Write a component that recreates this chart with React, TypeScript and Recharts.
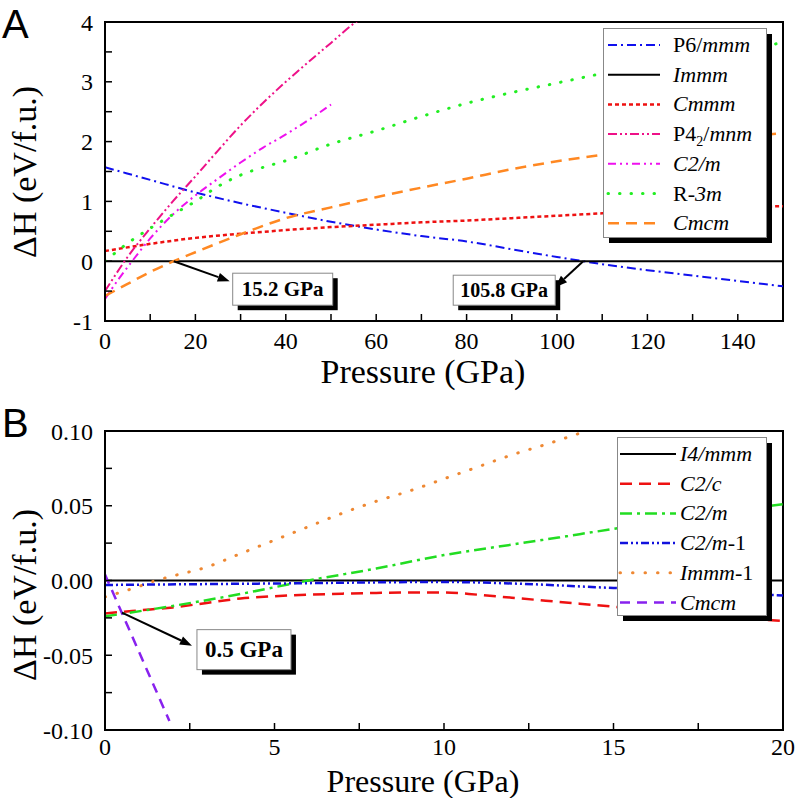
import React from "react";
import { LineChart, Line, XAxis, YAxis, ReferenceArea, ReferenceDot } from "recharts";

type Pt = { x: number; y: number };
type Seg = [string, boolean, boolean?];

const SERIF = "'Liberation Serif', 'Times New Roman', serif";

// ---- panel A ----
const pressureTicksA = [0, 10, 20, 30, 40, 50, 60, 70, 80, 90, 100, 110, 120, 130, 140, 150];
const enthalpyTicksA = [-1, -0.5, 0, 0.5, 1, 1.5, 2, 2.5, 3, 3.5, 4];

const p6mmm: Pt[] = [
  { x: 0, y: 1.57 }, { x: 10, y: 1.36 }, { x: 20, y: 1.15 }, { x: 30, y: 0.97 },
  { x: 40, y: 0.81 }, { x: 50, y: 0.66 }, { x: 60, y: 0.53 }, { x: 70, y: 0.42 },
  { x: 80, y: 0.33 }, { x: 90, y: 0.2 }, { x: 100, y: 0.07 }, { x: 105.8, y: 0 },
  { x: 110, y: -0.05 }, { x: 120, y: -0.15 }, { x: 130, y: -0.24 }, { x: 140, y: -0.33 },
  { x: 150, y: -0.42 },
];
const immm: Pt[] = [{ x: 0, y: 0 }, { x: 150, y: 0 }];
const cmmm: Pt[] = [
  { x: 0, y: 0.17 }, { x: 10, y: 0.29 }, { x: 20, y: 0.39 }, { x: 30, y: 0.46 },
  { x: 40, y: 0.52 }, { x: 50, y: 0.57 }, { x: 60, y: 0.61 }, { x: 70, y: 0.65 },
  { x: 80, y: 0.68 }, { x: 90, y: 0.72 }, { x: 100, y: 0.76 }, { x: 110, y: 0.8 },
  { x: 120, y: 0.84 }, { x: 130, y: 0.87 }, { x: 140, y: 0.9 }, { x: 150, y: 0.92 },
];
const p42mnm: Pt[] = [
  { x: 0, y: -0.5 }, { x: 5, y: 0.07 }, { x: 10, y: 0.55 }, { x: 15, y: 1.0 },
  { x: 20, y: 1.42 }, { x: 25, y: 1.85 }, { x: 30, y: 2.27 }, { x: 35, y: 2.65 },
  { x: 40, y: 3.0 }, { x: 45, y: 3.33 }, { x: 50, y: 3.65 }, { x: 55, y: 3.97 },
  { x: 58, y: 4.12 },
];
const c2mA: Pt[] = [
  { x: 0, y: -0.63 }, { x: 3, y: -0.3 }, { x: 6, y: 0 }, { x: 10, y: 0.38 },
  { x: 15, y: 0.78 }, { x: 20, y: 1.1 }, { x: 25, y: 1.38 }, { x: 30, y: 1.65 },
  { x: 35, y: 1.9 }, { x: 40, y: 2.12 }, { x: 45, y: 2.36 }, { x: 50, y: 2.62 },
];
const r3m: Pt[] = [
  { x: 0, y: 0 }, { x: 5, y: 0.3 }, { x: 10, y: 0.55 }, { x: 15, y: 0.78 },
  { x: 20, y: 1.0 }, { x: 25, y: 1.25 }, { x: 30, y: 1.44 }, { x: 35, y: 1.57 },
  { x: 40, y: 1.68 }, { x: 50, y: 1.96 }, { x: 60, y: 2.18 }, { x: 70, y: 2.42 },
  { x: 80, y: 2.64 }, { x: 90, y: 2.82 }, { x: 100, y: 2.98 }, { x: 110, y: 3.14 },
  { x: 120, y: 3.3 }, { x: 130, y: 3.44 }, { x: 140, y: 3.55 }, { x: 150, y: 3.65 },
];
const cmcmA: Pt[] = [
  { x: 0, y: -0.58 }, { x: 5, y: -0.38 }, { x: 10, y: -0.18 }, { x: 15.2, y: 0 },
  { x: 20, y: 0.15 }, { x: 30, y: 0.45 }, { x: 40, y: 0.72 }, { x: 50, y: 0.9 },
  { x: 60, y: 1.07 }, { x: 70, y: 1.23 }, { x: 80, y: 1.38 }, { x: 90, y: 1.54 },
  { x: 100, y: 1.67 }, { x: 110, y: 1.78 }, { x: 120, y: 1.88 }, { x: 130, y: 1.98 },
  { x: 140, y: 2.07 }, { x: 150, y: 2.14 },
];

// ---- panel B ----
const pressureTicksB = [0, 2.5, 5, 7.5, 10, 12.5, 15, 17.5, 20];
const enthalpyTicksB = [-0.1, -0.075, -0.05, -0.025, 0, 0.025, 0.05, 0.075, 0.1];

const i4mmm: Pt[] = [{ x: 0, y: 0 }, { x: 20, y: 0 }];
const c2c: Pt[] = [
  { x: 0, y: -0.022 }, { x: 1, y: -0.02 }, { x: 2, y: -0.018 }, { x: 3, y: -0.015 },
  { x: 4, y: -0.012 }, { x: 5, y: -0.0105 }, { x: 6, y: -0.0095 }, { x: 7, y: -0.0088 },
  { x: 8, y: -0.0083 }, { x: 9, y: -0.008 }, { x: 10, y: -0.008 }, { x: 11, y: -0.0095 },
  { x: 12, y: -0.0115 }, { x: 13, y: -0.0135 }, { x: 14, y: -0.0155 }, { x: 15, y: -0.0175 },
  { x: 16, y: -0.0195 }, { x: 17, y: -0.0215 }, { x: 18, y: -0.0235 }, { x: 19, y: -0.0255 },
  { x: 20, y: -0.027 },
];
const c2mB: Pt[] = [
  { x: 0, y: -0.024 }, { x: 2, y: -0.017 }, { x: 4, y: -0.009 }, { x: 6, y: 0 },
  { x: 8, y: 0.008 }, { x: 10, y: 0.017 }, { x: 12, y: 0.024 }, { x: 14, y: 0.031 },
  { x: 16, y: 0.038 }, { x: 18, y: 0.045 }, { x: 20, y: 0.051 },
];
const c2m1: Pt[] = [
  { x: 0, y: -0.003 }, { x: 5, y: -0.002 }, { x: 10, y: -0.001 }, { x: 12, y: -0.002 },
  { x: 15, y: -0.005 }, { x: 18, y: -0.008 }, { x: 20, y: -0.01 },
];
const immm1: Pt[] = [
  { x: 0, y: -0.011 }, { x: 1, y: -0.004 }, { x: 1.5, y: 0 }, { x: 2, y: 0.003 },
  { x: 3, y: 0.009 }, { x: 4, y: 0.018 }, { x: 5, y: 0.027 }, { x: 6, y: 0.036 },
  { x: 7, y: 0.045 }, { x: 8, y: 0.053 }, { x: 9, y: 0.06 }, { x: 10, y: 0.068 },
  { x: 11, y: 0.076 }, { x: 12, y: 0.084 }, { x: 13, y: 0.091 }, { x: 14.2, y: 0.1 },
];
const cmcmB: Pt[] = [{ x: 0, y: 0.004 }, { x: 1.9, y: -0.094 }];

type Series = {
  name: Seg[];
  data: Pt[];
  color: string;
  dash?: string;
  width: number;
  cap?: "round" | "butt";
};

const seriesA: Series[] = [
  { name: [["P6/", false], ["mmm", true]], data: p6mmm, color: "#1010ee", dash: "9 4 2 4", width: 2 },
  { name: [["Immm", true]], data: immm, color: "#000", width: 2 },
  { name: [["Cmmm", true]], data: cmmm, color: "#ee1111", dash: "4 3", width: 2.5 },
  { name: [["P4", false], ["2", false, true], ["/", false], ["mnm", true]], data: p42mnm, color: "#ee1188", dash: "9 3 2 3 2 3", width: 2 },
  { name: [["C2/m", true]], data: c2mA, color: "#ee11ee", dash: "8 4 2 4 2 4", width: 2 },
  { name: [["R-", false], ["3m", true]], data: r3m, color: "#22ee22", dash: "0.5 11", width: 3, cap: "round" },
  { name: [["Cmcm", true]], data: cmcmA, color: "#ff8822", dash: "11 7", width: 2.5 },
];

const seriesB: Series[] = [
  { name: [["I4/mmm", true]], data: i4mmm, color: "#000", width: 2 },
  { name: [["C2/c", true]], data: c2c, color: "#ee1111", dash: "12 7", width: 2.5 },
  { name: [["C2/m", true]], data: c2mB, color: "#22dd22", dash: "12 5 3 5", width: 2.5 },
  { name: [["C2/m", true], ["-1", false]], data: c2m1, color: "#1111dd", dash: "8 3 2 3 2 3", width: 2.5 },
  { name: [["Immm", true], ["-1", false]], data: immm1, color: "#ee8833", dash: "0.5 12", width: 3, cap: "round" },
  { name: [["Cmcm", true]], data: cmcmB, color: "#8822ee", dash: "10 7", width: 2.5 },
];

const tickStyle = { fill: "#000", fontSize: 24, fontFamily: SERIF };

function Callout(props: any) {
  const { cx, cy, bx, by, bw, bh, tx, ty, text, fs } = props;
  const ang = Math.atan2(ty, tx);
  const hl = 12;
  const hw = 4.5;
  const ex = cx + tx - hl * Math.cos(ang);
  const ey = cy + ty - hl * Math.sin(ang);
  const px = -Math.sin(ang) * hw;
  const py = Math.cos(ang) * hw;
  return (
    <g>
      <line x1={cx} y1={cy} x2={ex} y2={ey} stroke="#000" strokeWidth={2} />
      <polygon
        points={`${cx + tx},${cy + ty} ${ex + px},${ey + py} ${ex - px},${ey - py}`}
        fill="#000"
      />
      <rect x={cx + bx + 5} y={cy + by + 5} width={bw} height={bh} fill="#000" />
      <rect x={cx + bx} y={cy + by} width={bw} height={bh} fill="#fff" stroke="#888" strokeWidth={1} />
      <text
        x={cx + bx + bw / 2}
        y={cy + by + bh / 2 + fs * 0.34}
        textAnchor="middle"
        fontFamily={SERIF}
        fontWeight="bold"
        fontSize={fs}
        fill="#000"
      >
        {text}
      </text>
    </g>
  );
}

function LegendBox({ items, left, top, width, height, x1, x2, textX }: any) {
  return (
    <svg
      style={{ position: "absolute", left, top, overflow: "visible" }}
      width={width + 8}
      height={height + 8}
    >
      <rect x={6} y={6} width={width} height={height} fill="#000" />
      <rect x={0.5} y={0.5} width={width} height={height} fill="#fff" stroke="#888" />
      {items.map((s: Series, i: number) => {
        const cy = 17 + i * 29.7;
        return (
          <g key={i}>
            <line
              x1={x1}
              x2={x2}
              y1={cy}
              y2={cy}
              stroke={s.color}
              strokeWidth={s.width}
              strokeDasharray={s.dash}
              strokeLinecap={s.cap || "butt"}
            />
            <text x={textX} y={cy + 7} fontFamily={SERIF} fontSize={22} fill="#000">
              {s.name.map((seg, j) =>
                seg[2] ? (
                  <tspan key={j} fontSize={14} dy={5}>
                    {seg[0]}
                  </tspan>
                ) : (
                  <tspan
                    key={j}
                    fontStyle={seg[1] ? "italic" : "normal"}
                    dy={j > 0 && s.name[j - 1][2] ? -5 : 0}
                  >
                    {seg[0]}
                  </tspan>
                )
              )}
            </text>
          </g>
        );
      })}
    </svg>
  );
}

function renderLines(list: Series[]) {
  return list.map((s, i) => (
    <Line
      key={i}
      data={s.data}
      dataKey="y"
      type={s.data.length > 2 ? "monotone" : "linear"}
      stroke={s.color}
      strokeWidth={s.width}
      strokeDasharray={s.dash}
      strokeLinecap={s.cap || "butt"}
      dot={false}
      activeDot={false}
      isAnimationActive={false}
    />
  ));
}

export default function App() {
  return (
    <div
      style={{
        position: "absolute",
        left: 0,
        top: 0,
        width: 798,
        height: 798,
        background: "#fff",
        fontFamily: SERIF,
      }}
    >
      <div style={{ position: "absolute", left: 0, top: 0 }}>
        <LineChart width={798} height={400} margin={{ top: 22, right: 15, bottom: 0, left: 0 }}>
          <XAxis
            type="number"
            dataKey="x"
            domain={[0, 150]}
            allowDataOverflow
            ticks={pressureTicksA}
            interval={0}
            height={79}
            tickSize={-7}
            tickMargin={18}
            tick={tickStyle}
            tickFormatter={(v: number) => (v % 20 === 0 ? String(v) : "")}
            axisLine={{ stroke: "#000", strokeWidth: 2 }}
            tickLine={{ stroke: "#000", strokeWidth: 1.5 }}
          />
          <YAxis
            type="number"
            domain={[-1, 4]}
            allowDataOverflow
            ticks={enthalpyTicksA}
            interval={0}
            width={105}
            tickSize={-7}
            tickMargin={19}
            tick={tickStyle}
            tickFormatter={(v: number) => (Number.isInteger(v) ? String(v) : "")}
            axisLine={{ stroke: "#000", strokeWidth: 2 }}
            tickLine={{ stroke: "#000", strokeWidth: 1.5 }}
          />
          <ReferenceArea x1={0} x2={150} y1={-1} y2={4} fill="none" stroke="#000" strokeWidth={2} ifOverflow="visible" />
          {renderLines(seriesA)}
          <ReferenceDot
            x={15.2}
            y={0}
            r={0}
            ifOverflow="visible"
            shape={(p: any) => (
              <Callout cx={p.cx} cy={p.cy} bx={59} by={12} bw={100} bh={32} tx={56} ty={20} text="15.2 GPa" fs={21} />
            )}
          />
          <ReferenceDot
            x={105.8}
            y={0}
            r={0}
            ifOverflow="visible"
            shape={(p: any) => (
              <Callout cx={p.cx} cy={p.cy} bx={-130} by={14} bw={102} bh={30} tx={-28} ty={26} text="105.8 GPa" fs={20} />
            )}
          />
        </LineChart>
      </div>

      <div style={{ position: "absolute", left: 0, top: 400 }}>
        <LineChart width={798} height={398} margin={{ top: 31, right: 15, bottom: 0, left: 0 }}>
          <XAxis
            type="number"
            dataKey="x"
            domain={[0, 20]}
            allowDataOverflow
            ticks={pressureTicksB}
            interval={0}
            height={68}
            tickSize={-7}
            tickMargin={15}
            tick={tickStyle}
            tickFormatter={(v: number) => (v % 5 === 0 ? String(v) : "")}
            axisLine={{ stroke: "#000", strokeWidth: 2 }}
            tickLine={{ stroke: "#000", strokeWidth: 1.5 }}
          />
          <YAxis
            type="number"
            domain={[-0.1, 0.1]}
            allowDataOverflow
            ticks={enthalpyTicksB}
            interval={0}
            width={105}
            tickSize={-7}
            tickMargin={19}
            tick={tickStyle}
            tickFormatter={(v: number) =>
              Math.round(Math.abs(v) * 1000) % 50 === 0 ? v.toFixed(2) : ""
            }
            axisLine={{ stroke: "#000", strokeWidth: 2 }}
            tickLine={{ stroke: "#000", strokeWidth: 1.5 }}
          />
          <ReferenceArea x1={0} x2={20} y1={-0.1} y2={0.1} fill="none" stroke="#000" strokeWidth={2} ifOverflow="visible" />
          {renderLines(seriesB)}
          <ReferenceDot
            x={0.5}
            y={-0.0215}
            r={0}
            ifOverflow="visible"
            shape={(p: any) => (
              <Callout cx={p.cx} cy={p.cy} bx={75} by={17} bw={94} bh={40} tx={70} ty={33} text="0.5 GPa" fs={23} />
            )}
          />
        </LineChart>
      </div>

      <LegendBox items={seriesA} left={603} top={28} width={163} height={209} x1={5} x2={57} textX={70} />
      <LegendBox items={seriesB} left={617} top={437} width={149} height={178} x1={3} x2={59} textX={63} />

      <svg
        style={{ position: "absolute", left: 0, top: 0, pointerEvents: "none" }}
        width={798}
        height={798}
      >
        <text x={2} y={38} fontFamily="'Liberation Sans', Arial, sans-serif" fontSize={40} fill="#000">A</text>
        <text x={2} y={437} fontFamily="'Liberation Sans', Arial, sans-serif" fontSize={40} fill="#000">B</text>
        <text x={423} y={383} textAnchor="middle" fontFamily={SERIF} fontSize={34} fill="#000">Pressure (GPa)</text>
        <text x={423} y={792} textAnchor="middle" fontFamily={SERIF} fontSize={32} fill="#000">Pressure (GPa)</text>
        <text x={36} y={172} textAnchor="middle" transform="rotate(-90 36 172)" fontFamily={SERIF} fontSize={34} fill="#000">ΔH (eV/f.u.)</text>
        <text x={36} y={595} textAnchor="middle" transform="rotate(-90 36 595)" fontFamily={SERIF} fontSize={34} fill="#000">ΔH (eV/f.u.)</text>
      </svg>
    </div>
  );
}
